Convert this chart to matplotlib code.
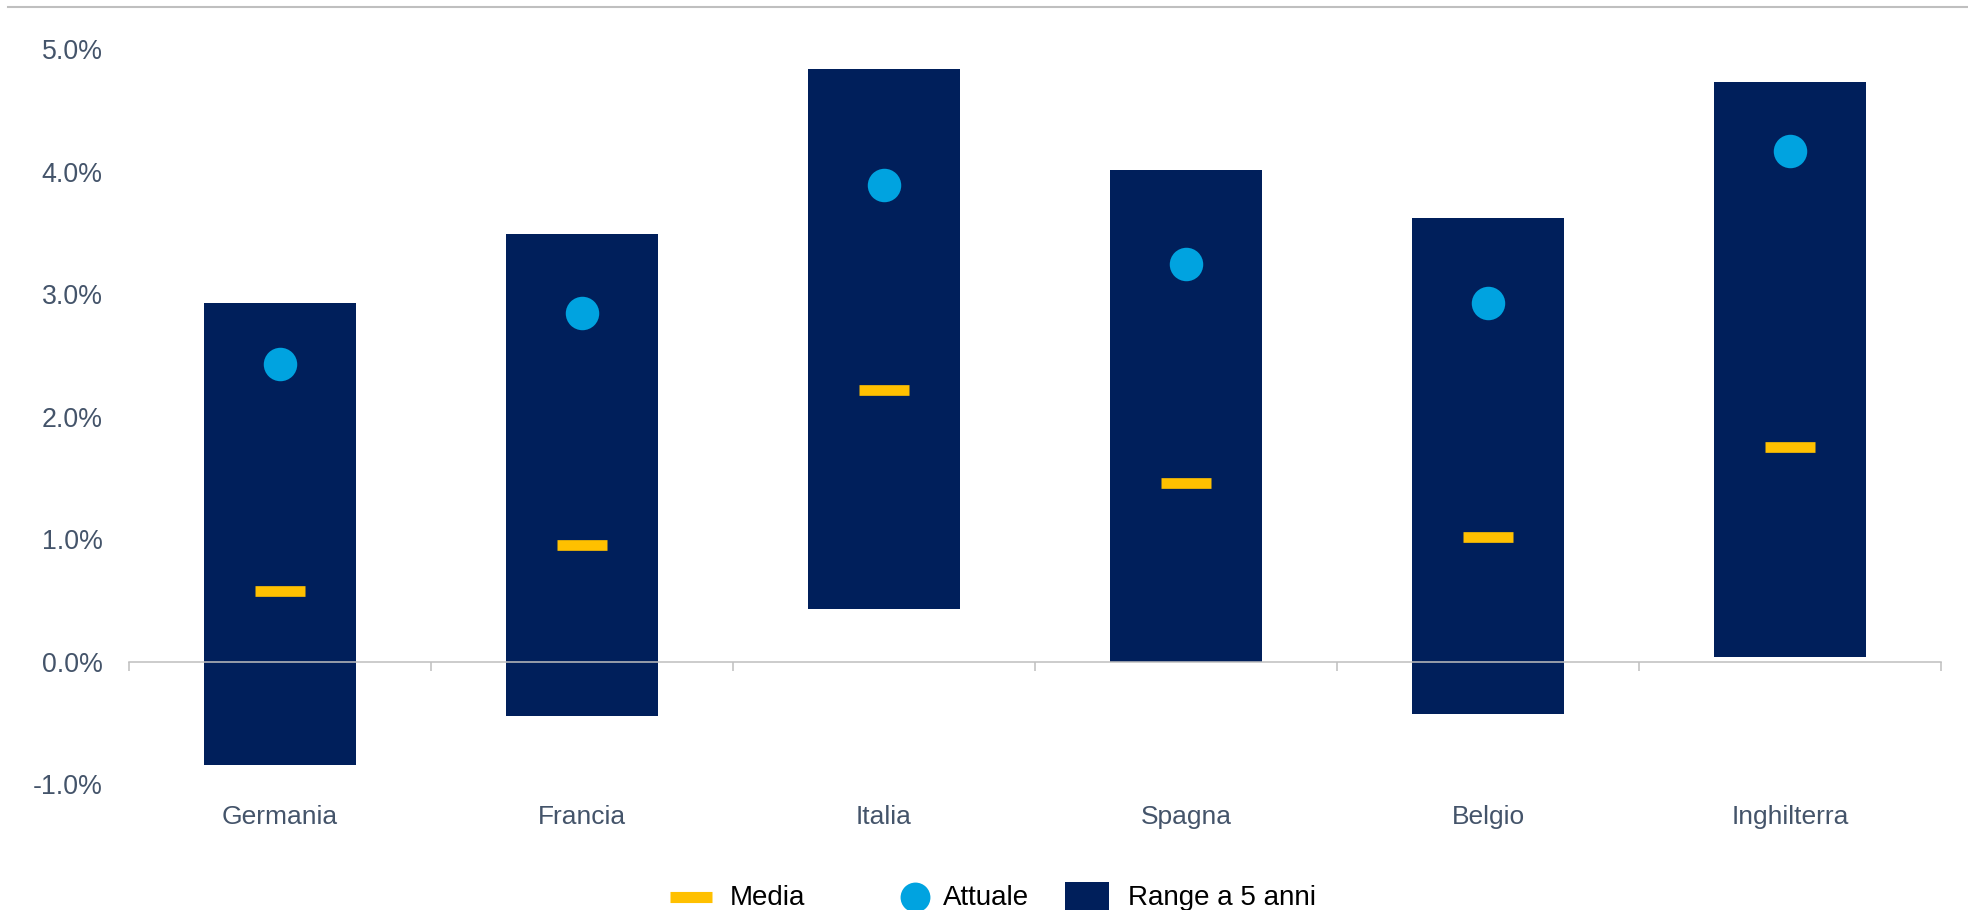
import numpy as np
import matplotlib
matplotlib.use("Agg")
import matplotlib.pyplot as plt
from matplotlib.lines import Line2D

# ---- data ----
categories = ["Germania", "Francia", "Italia", "Spagna", "Belgio", "Inghilterra"]
range_low = [-0.84, -0.44, 0.43, 0.00, -0.43, 0.04]
range_high = [2.93, 3.49, 4.84, 4.01, 3.62, 4.73]
media = [0.58, 0.95, 2.22, 1.46, 1.02, 1.75]
attuale = [2.43, 2.85, 3.89, 3.25, 2.93, 4.17]
yticks = [-1.0, 0.0, 1.0, 2.0, 3.0, 4.0, 5.0]
legend_labels = ["Media", "Attuale", "Range a 5 anni"]

NAVY = "#001F5B"
CYAN = "#00A3E0"
YELLOW = "#FFC000"
GRAY = "#BFBFBF"
TXT = "#44546A"

W, H = 1968, 910
fig = plt.figure(figsize=(W / 100, H / 100), dpi=100)
ax = fig.add_axes([129 / W, 1 - 784.2 / H, (1941 - 129) / W, (784.2 - 49.2) / H])

x = np.arange(len(categories))
low = np.array(range_low)
high = np.array(range_high)
ax.bar(x, high - low, bottom=low, width=0.503, color=NAVY, zorder=1, linewidth=0)
ax.plot(x, attuale, linestyle="none", marker="o", markersize=24.1,
        markerfacecolor=CYAN, markeredgewidth=0, zorder=4)
ax.plot(x, media, linestyle="none", marker="_", markersize=35.5,
        markeredgewidth=7.7, color=YELLOW, zorder=4)

ax.set_xlim(-0.5, len(categories) - 0.5)
ax.set_ylim(-1.0, 5.0)

for s in ["left", "right", "top"]:
    ax.spines[s].set_visible(False)
ax.spines["bottom"].set_position(("data", 0))
ax.spines["bottom"].set_color(GRAY)
ax.spines["bottom"].set_linewidth(1.1)
ax.spines["bottom"].set_zorder(2.5)

ax.set_xticks(x)
ax.set_xticklabels(categories)
ax.set_xticks(np.arange(len(categories) + 1) - 0.5, minor=True)
ax.tick_params(axis="x", which="major", length=0, pad=103.5,
               labelsize=19, labelcolor=TXT)
ax.tick_params(axis="x", which="minor", length=6.5, width=1.1,
               color=GRAY, direction="out")

ax.set_yticks(yticks)
ax.set_yticklabels([f"{v:.1f}%" for v in yticks])
ax.tick_params(axis="y", length=0, pad=19, labelsize=19.3, labelcolor=TXT)
for lab in ax.get_xticklabels() + ax.get_yticklabels():
    lab.set_fontfamily(["Liberation Sans", "DejaVu Sans"])

# top rule
fig.add_artist(Line2D([8 / W, 1.0], [1 - 7 / H, 1 - 7 / H],
                      transform=fig.transFigure, color=GRAY, linewidth=1.5))

# legend
ly = 1 - 897 / H
rect_marker = [(-1, -0.7), (1, -0.7), (1, 0.7), (-1, 0.7), (-1, -0.7)]
fig.add_artist(Line2D([691 / W], [ly], transform=fig.transFigure, marker="_",
                      markersize=30, markeredgewidth=8, color=YELLOW))
fig.add_artist(Line2D([915 / W], [ly], transform=fig.transFigure, marker="o",
                      markersize=21.5, markeredgewidth=0, markerfacecolor=CYAN))
fig.add_artist(Line2D([1087 / W], [ly], transform=fig.transFigure, marker=rect_marker,
                      markersize=31.5, markeredgewidth=0, markerfacecolor=NAVY))
legend_x = [730, 943, 1128]
for lx, lab in zip(legend_x, legend_labels):
    fig.text(lx / W, 1 - 905 / H, lab, ha="left", va="baseline", fontsize=20,
             color="black", family=["Liberation Sans Narrow", "Liberation Sans", "DejaVu Sans"])

fig.savefig("out.png", dpi=100)
